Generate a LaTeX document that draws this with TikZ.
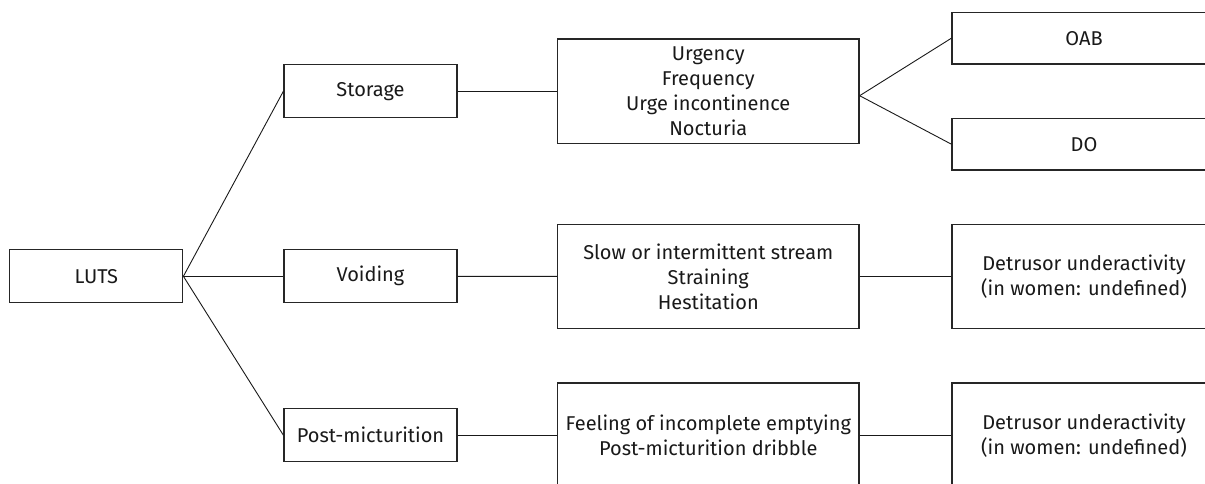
\documentclass[tikz,border=0pt]{standalone}
\usepackage{fontspec}
\setmainfont{Fira Sans}
\usepackage{tikz}
\usetikzlibrary{calc}

\tikzset{
  box/.style={draw=black!85, line width=1.2pt, align=center, inner sep=0pt,
    minimum height=53pt, text=black!90,
    font=\fontsize{20}{25}\selectfont},
  smallbox/.style={box, minimum width=173pt},
  symbox/.style={box, minimum width=301.5pt, minimum height=104.3pt},
  rbox/.style={box, minimum width=264pt},
  link/.style={draw=black!90, line width=0.9pt}
}

\begin{document}
\begin{tikzpicture}[x=1pt, y=-1pt]
            \useasboundingbox (0,0) rectangle (1205,483);
            \clip (0,0) rectangle (1205,483);

            % Draw the main node
            \node[smallbox] (luts) at (96.3,276.3) {LUTS};

            % Draw the three groups
            \node[smallbox] (storage) at (370.5,91.2) {Storage};
            \node[smallbox] (voiding) at (370.5,276.3) {Voiding};
            \node[smallbox] (postmic) at (370.5,435.2) {Post-micturition};

            % Draw the symptoms
            \node[symbox] (symstorage) at (708.3,91.2) {Urgency\\Frequency\\Urge incontinence\\Nocturia};
            \node[symbox] (symvoiding) at (708.3,276.5) {Slow or intermittent stream\\Straining\\Hestitation};
            \node[symbox] (sympostmic) at (708.3,435.2) {Feeling of incomplete emptying\\Post-micturition dribble};

            % Draw the findings (cut off by the right edge)
            \node[rbox, minimum height=51.7pt] (oab) at (1084,38.2) {OAB};
            \node[rbox, minimum height=51.7pt] (do) at (1084,144.2) {DO};
            \node[rbox, minimum height=104.3pt] (duvoiding) at (1084,276.5) {Detrusor underactivity\\(in women: undefined)};
            \node[rbox, minimum height=104.3pt] (dupostmic) at (1084,435.2) {Detrusor underactivity\\(in women: undefined)};

            % Connect the boxes
            \foreach \n in {storage, voiding, postmic}
                \path[link] (luts.east) -- (\n.west);
            \path[link] (storage) -- (symstorage);
            \path[link] (voiding) -- (symvoiding);
            \path[link] (postmic) -- (sympostmic);
            \path[link] ([yshift=-4.5pt]symstorage.east) -- (oab.west);
            \path[link] ([yshift=-4.5pt]symstorage.east) -- (do.west);
            \path[link] (symvoiding) -- (duvoiding);
            \path[link] (sympostmic) -- (dupostmic);
        \end{tikzpicture}
\end{document}
